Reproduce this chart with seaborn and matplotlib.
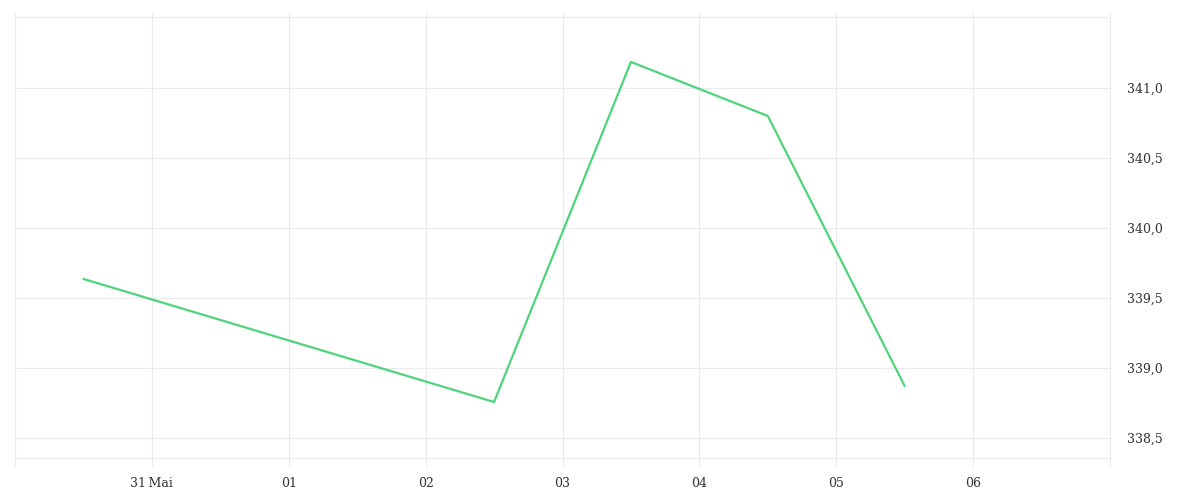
import matplotlib
matplotlib.use("Agg")
import matplotlib.pyplot as plt
import seaborn as sns
import pandas as pd
import numpy as np

# data
dates = ["2023-05-30 12:00", "2023-06-02 12:00", "2023-06-03 12:00",
         "2023-06-04 12:00", "2023-06-05 12:00"]
values = [339.636, 338.757, 341.186, 340.80, 338.871]
xtick_dates = ["2023-05-31", "2023-06-01", "2023-06-02", "2023-06-03",
               "2023-06-04", "2023-06-05", "2023-06-06"]
xtick_labels = ["31\u2009Mai", "01", "02", "03", "04", "05", "06"]
ytick_values = [338.5, 339.0, 339.5, 340.0, 340.5, 341.0]
ytick_labels = ["338,5", "339,0", "339,5", "340,0", "340,5", "341,0"]

sns.set_theme(style="white")
plt.rcParams["font.family"] = ["DejaVu Serif"]

df = pd.DataFrame({"date": pd.to_datetime(dates), "value": values})

fig = plt.figure(figsize=(12, 5), dpi=100)
ax = fig.add_axes([0.0125, 0.084, 0.9125, 0.882])

grid_c = "#ebebeb"
sns.lineplot(data=df, x="date", y="value", ax=ax, color="#4fd47c",
             linewidth=1.6, zorder=5)

x0 = pd.Timestamp("2023-05-30")
x1 = pd.Timestamp("2023-06-07")
ax.set_xlim(x0, x1)
ax.set_ylim(338.357, 341.507)

xt = pd.to_datetime(xtick_dates)
ax.set_xticks(xt)
ax.set_xticklabels(xtick_labels)
ax.set_yticks(ytick_values)
ax.set_yticklabels(ytick_labels)
ax.yaxis.tick_right()

for y in ytick_values:
    ax.axhline(y, color=grid_c, linewidth=0.8, zorder=1)
for x in list(xt) + [x0, x1]:
    ax.axvline(x, ymin=-0.0204, ymax=1.0113, color=grid_c, linewidth=0.8,
               clip_on=False, zorder=1)

for s in ["left", "right"]:
    ax.spines[s].set_visible(False)
for s in ["top", "bottom"]:
    ax.spines[s].set_color(grid_c)
    ax.spines[s].set_linewidth(0.8)

ax.tick_params(axis="x", length=0, pad=14, labelsize=9, labelcolor="#333333")
ax.tick_params(axis="y", length=0, pad=12, labelsize=9, labelcolor="#333333")
ax.set_xlabel("")
ax.set_ylabel("")

fig.savefig("out.png", dpi=100)
